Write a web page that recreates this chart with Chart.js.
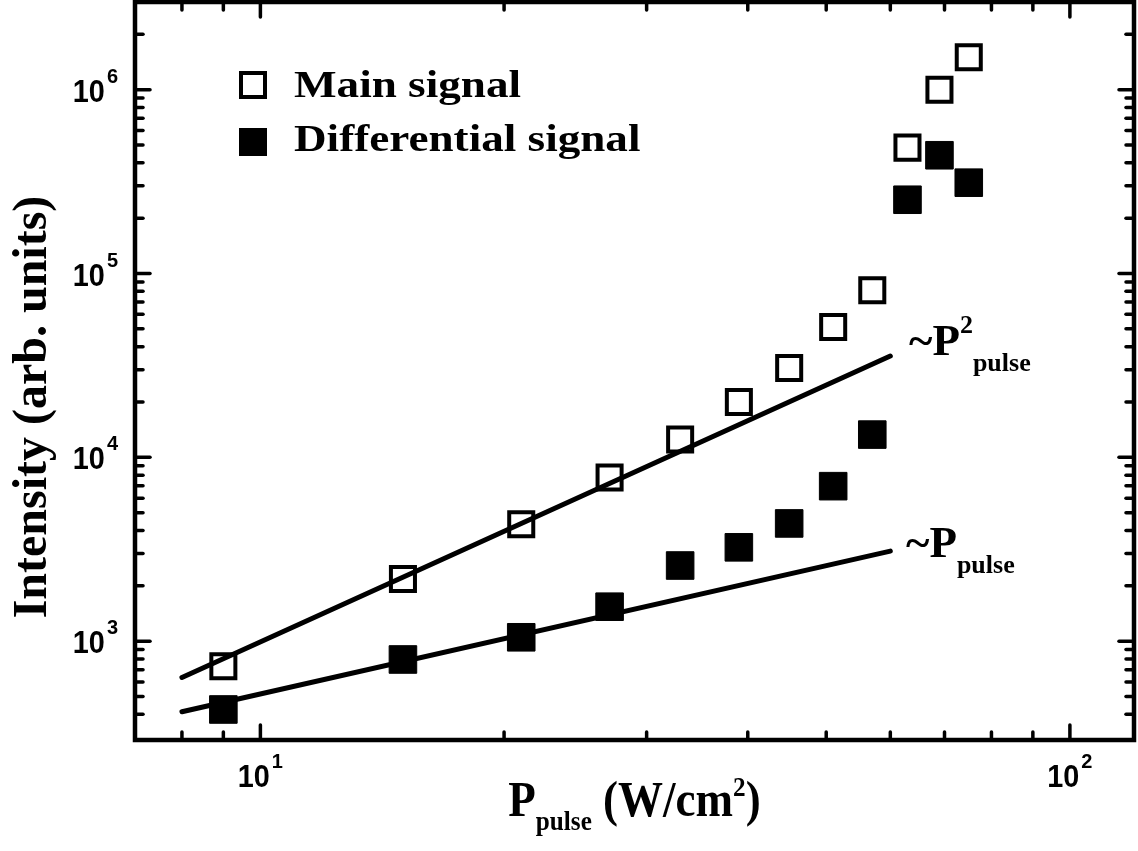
<!DOCTYPE html>
<html>
<head>
<meta charset="utf-8">
<script src="https://cdn.jsdelivr.net/npm/chart.js@4"></script>
<style>
  html, body { margin: 0; padding: 0; background: #fff; }
  #wrap { width: 1138px; height: 851px; position: relative; }
</style>
</head>
<body>
<div id="wrap"><canvas id="chart"></canvas></div>
<script>
// Pulse power (W/cm^2) for each measured point
const power = [9, 15, 21, 27, 33, 39, 45, 51, 57, 63, 69, 75];
// Intensity (arb. units)
const mainSignal = [730, 2180, 4330, 7760, 12500, 20000, 30600, 51200, 81000, 484000, 1000000, 1500000];
const diffSignal = [425, 795, 1050, 1540, 2580, 3240, 4370, 6970, 13300, 252000, 440000, 312000];
// guide lines ~P^2 and ~P (end points)
const fitPower = [8, 60];
const fitQuad = [635, 35600];
const fitLin = [413, 3090];

const xMajor = [10, 100];
const yMajor = [1e3, 1e4, 1e5, 1e6];

const SERIF = '"Liberation Serif", "Times New Roman", serif';
const SANS = '"Liberation Sans", Arial, sans-serif';

function pts(xs, ys) {
  return xs.map((x, i) => ({ x: x, y: ys[i] }));
}

// text runs [{t, f, dy, sx, gap}] drawn from x on baseline y; each run can be squeezed by sx
function runWidth(ctx, r) {
  ctx.font = r.f;
  return ctx.measureText(r.t).width * (r.sx || 1) + (r.gap || 0);
}
function drawRuns(ctx, runs, x, y, align) {
  let w = 0;
  for (const r of runs) w += runWidth(ctx, r);
  let px = x;
  if (align === 'center') px = x - w / 2;
  else if (align === 'right') px = x - w;
  ctx.save();
  ctx.textAlign = 'left';
  ctx.textBaseline = 'alphabetic';
  for (const r of runs) {
    px += r.gap || 0;
    ctx.save();
    ctx.translate(px, y + (r.dy || 0));
    ctx.scale(r.sx || 1, 1);
    ctx.font = r.f;
    ctx.fillText(r.t, 0, 0);
    ctx.restore();
    px += runWidth(ctx, r) - (r.gap || 0);
  }
  ctx.restore();
}

function minorTicks(min, max) {
  const out = [];
  for (let e = Math.floor(Math.log10(min)); e <= Math.ceil(Math.log10(max)); e++) {
    for (let m = 2; m <= 9; m++) {
      const v = m * Math.pow(10, e);
      if (v > min * 1.05 && v < max * 0.97) out.push(v);
    }
  }
  return out;
}

function powLabel(v) {
  return [
    { t: '10', f: 'bold 32px ' + SANS, sx: 0.9 },
    { t: String(Math.round(Math.log10(v))), f: 'bold 20px ' + SANS, dy: -19, gap: 2 }
  ];
}

const framePlugin = {
  id: 'frame',
  afterDraw(chart) {
    const ctx = chart.ctx;
    const xs = chart.scales.x, ys = chart.scales.y;
    const L = xs.left, R = xs.right, T = ys.top, B = ys.bottom;
    ctx.save();
    ctx.fillStyle = '#000';
    ctx.strokeStyle = '#000';
    ctx.lineCap = 'round';

    // ticks (inward, on all four sides)
    ctx.lineWidth = 3.5;
    const tick = (x1, y1, x2, y2) => { ctx.beginPath(); ctx.moveTo(x1, y1); ctx.lineTo(x2, y2); ctx.stroke(); };
    for (const v of xMajor) {
      const x = xs.getPixelForValue(v);
      tick(x, B, x, B - 15); tick(x, T, x, T + 15);
    }
    for (const v of minorTicks(xs.min, 100)) {
      const x = xs.getPixelForValue(v);
      tick(x, B, x, B - 8); tick(x, T, x, T + 8);
    }
    for (const v of yMajor) {
      const y = ys.getPixelForValue(v);
      tick(L, y, L + 15, y); tick(R, y, R - 15, y);
    }
    for (const v of minorTicks(ys.min, ys.max)) {
      const y = ys.getPixelForValue(v);
      tick(L, y, L + 8, y); tick(R, y, R - 8, y);
    }

    // frame
    ctx.lineWidth = 4.5;
    ctx.lineCap = 'square';
    ctx.strokeRect(L, T, R - L, B - T);

    // tick labels
    for (const v of yMajor) {
      drawRuns(ctx, powLabel(v), 118, ys.getPixelForValue(v) + 12, 'right');
    }
    for (const v of xMajor) {
      drawRuns(ctx, powLabel(v), xs.getPixelForValue(v), 787, 'center');
    }

    // axis titles
    drawRuns(ctx, [
      { t: 'P', f: 'bold 50px ' + SERIF, sx: 0.9 },
      { t: 'pulse', f: 'bold 28px ' + SERIF, dy: 14, sx: 0.9 },
      { t: ' (W/cm', f: 'bold 50px ' + SERIF, sx: 0.9 },
      { t: '2', f: 'bold 28px ' + SERIF, dy: -20, sx: 0.9 },
      { t: ')', f: 'bold 50px ' + SERIF, sx: 0.9 }
    ], (L + R) / 2, 816, 'center');

    ctx.save();
    ctx.translate(46, 407);
    ctx.rotate(-Math.PI / 2);
    drawRuns(ctx, [{ t: 'Intensity (arb. units)', f: 'bold 48px ' + SERIF }], 0, 0, 'center');
    ctx.restore();

    // legend
    ctx.lineWidth = 4;
    ctx.lineCap = 'butt';
    ctx.strokeRect(241, 73, 24, 24);
    ctx.fillRect(239, 128, 28, 28);
    drawRuns(ctx, [{ t: 'Main signal', f: 'bold 37px ' + SERIF, sx: 1.22 }], 294, 97, 'left');
    drawRuns(ctx, [{ t: 'Differential signal', f: 'bold 37px ' + SERIF, sx: 1.22 }], 294, 151, 'left');

    // guide line labels
    drawRuns(ctx, [
      { t: '~P', f: 'bold 45px ' + SERIF },
      { t: '2', f: 'bold 26px ' + SERIF, dy: -22 },
      { t: 'pulse', f: 'bold 26px ' + SERIF, dy: 16 }
    ], 909, 355, 'left');
    drawRuns(ctx, [
      { t: '~P', f: 'bold 45px ' + SERIF },
      { t: 'pulse', f: 'bold 26px ' + SERIF, dy: 16 }
    ], 906, 557, 'left');

    ctx.restore();
  }
};

new Chart(document.getElementById('chart'), {
  type: 'scatter',
  data: {
    datasets: [
      {
        label: 'Main signal',
        data: pts(power, mainSignal),
        pointStyle: 'rect',
        pointRadius: 17,
        borderWidth: 4,
        borderColor: '#000',
        backgroundColor: 'rgba(0,0,0,0)',
        order: 2
      },
      {
        label: 'Differential signal',
        data: pts(power, diffSignal),
        pointStyle: 'rect',
        pointRadius: 19.5,
        borderWidth: 1,
        borderColor: '#000',
        backgroundColor: '#000',
        order: 2
      },
      {
        label: '~P^2',
        type: 'line',
        data: pts(fitPower, fitQuad),
        borderColor: '#000',
        borderWidth: 5,
        borderCapStyle: 'round',
        pointRadius: 0,
        fill: false,
        order: 1
      },
      {
        label: '~P',
        type: 'line',
        data: pts(fitPower, fitLin),
        borderColor: '#000',
        borderWidth: 5,
        borderCapStyle: 'round',
        pointRadius: 0,
        fill: false,
        order: 1
      }
    ]
  },
  options: {
    responsive: true,
    maintainAspectRatio: false,
    animation: false,
    layout: { autoPadding: false, padding: { left: 135, right: 4, top: 2, bottom: 111 } },
    scales: {
      x: { type: 'logarithmic', min: 7, max: 120, display: false },
      y: { type: 'logarithmic', min: 290, max: 3e6, display: false }
    },
    plugins: {
      legend: { display: false },
      tooltip: { enabled: false }
    }
  },
  plugins: [framePlugin]
});
</script>
</body>
</html>
